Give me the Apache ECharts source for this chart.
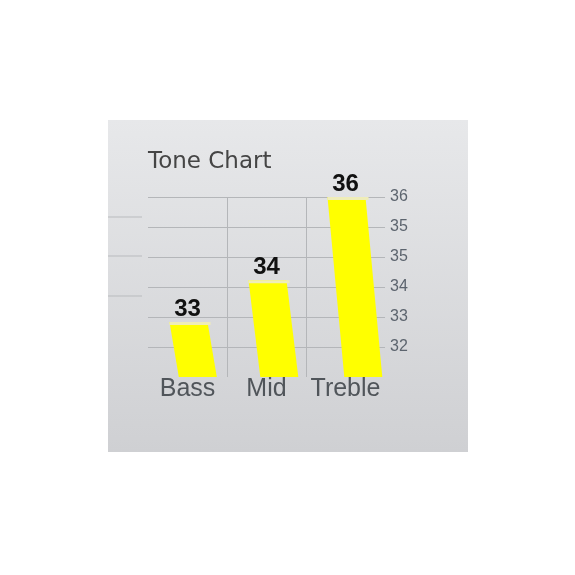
<!DOCTYPE html>
<html>
<head>
<meta charset="utf-8">
<script src="https://cdn.jsdelivr.net/npm/echarts@6/dist/echarts.min.js"></script>
<style>
html,body{margin:0;padding:0;background:#ffffff;width:575px;height:575px;overflow:hidden;}
#chart{position:absolute;left:108px;top:120px;width:360px;height:332px;}
</style>
</head>
<body>
<div id="chart"></div>
<script>
const title = 'Tone Chart';
const categories = ['Bass', 'Mid', 'Treble'];
const values = [33, 34, 36];
const yMin = 31.68, yMax = 36, yStep = 0.72, yFirstLabel = 32;

const chart = echarts.init(document.getElementById('chart'), null, {renderer: 'canvas'});

function renderSkewBar(params, api) {
  const idx = api.value(0);
  const v = api.value(1);
  const top = api.coord([idx, v]);
  const base = api.coord([idx, yMin]);
  const bw = 38;
  const h = base[1] - top[1];
  const skew = 0.06 * h + 5;
  const tx = top[0] + 1;
  const bx = tx + skew;
  const hl = 3;
  return {
    type: 'group',
    children: [
      {
        type: 'polygon',
        shape: {points: [[tx - bw / 2, top[1]], [tx + bw / 2, top[1]], [bx + bw / 2 + 1, base[1]], [bx - bw / 2 + 1, base[1]]]},
        style: {fill: '#ffff00'}
      },
      {
        type: 'polygon',
        shape: {points: [[tx - bw / 2, top[1]], [tx + bw / 2 + 3, top[1]], [tx + bw / 2 + 3, top[1] + hl], [tx - bw / 2, top[1] + hl]]},
        style: {fill: '#efedb8'}
      },
      {
        type: 'text',
        style: {
          text: String(v), x: tx - 1, y: top[1] - 1, align: 'center', verticalAlign: 'bottom',
          font: 'bold 24px "Liberation Sans"', fill: '#111111'
        }
      }
    ]
  };
}

chart.setOption({
  backgroundColor: {
    type: 'linear', x: 0, y: 0, x2: 0, y2: 1,
    colorStops: [{offset: 0, color: '#e7e8ea'}, {offset: 1, color: '#cfd0d3'}]
  },
  animation: false,
  title: {
    text: title, left: 35, top: 26,
    textStyle: {fontFamily: 'DejaVu Sans', fontSize: 23, fontWeight: 'normal', color: '#454545'}
  },
  grid: {left: 40, right: 83, top: 77, bottom: 75, containLabel: false},
  xAxis: {
    type: 'category', data: categories,
    axisLine: {show: false}, axisTick: {show: false},
    axisLabel: {interval: 0, fontFamily: 'Liberation Sans', fontSize: 25, color: '#50555a', margin: 0},
    splitLine: {show: true, interval: 0, showMinLine: false, showMaxLine: false, lineStyle: {color: '#b4b6b9', width: 1}}
  },
  yAxis: {
    type: 'value', position: 'right', min: yMin, max: yMax, interval: yStep,
    axisLine: {show: false}, axisTick: {show: false},
    axisLabel: {
      margin: 5, fontFamily: 'Liberation Sans', fontSize: 16, color: '#5c646e',
      formatter: function (v) {
        if (v < yFirstLabel) return '';
        return String(Math.round(v));
      }
    },
    splitLine: {show: true, showMinLine: false, lineStyle: {color: '#b4b6b9', width: 1}}
  },
  graphic: [
    {type: 'line', shape: {x1: 0, y1: 97, x2: 34, y2: 97}, style: {stroke: '#b9bbbe', lineWidth: 1}},
    {type: 'line', shape: {x1: 0, y1: 136, x2: 34, y2: 136}, style: {stroke: '#b9bbbe', lineWidth: 1}},
    {type: 'line', shape: {x1: 0, y1: 176, x2: 34, y2: 176}, style: {stroke: '#b9bbbe', lineWidth: 1}}
  ],
  series: [{
    type: 'custom',
    renderItem: renderSkewBar,
    encode: {x: 0, y: 1},
    data: values.map(function (v, i) { return [i, v]; })
  }]
});
</script>
</body>
</html>
